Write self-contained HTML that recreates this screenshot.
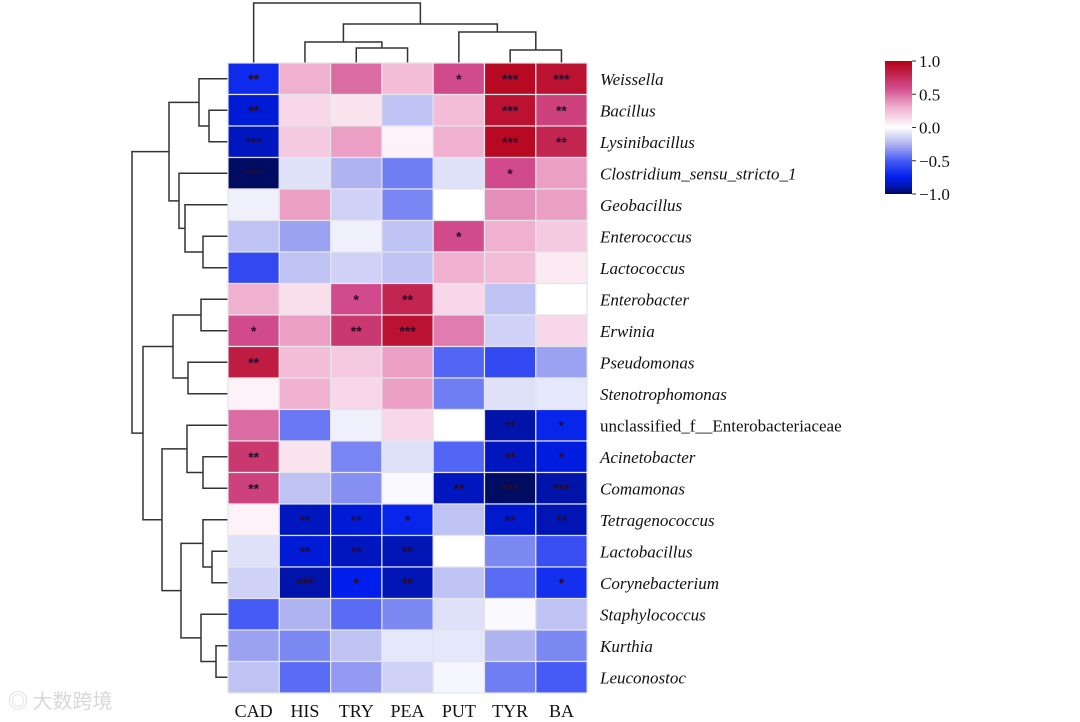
<!DOCTYPE html>
<html><head><meta charset="utf-8">
<style>
html,body{margin:0;padding:0;background:#fff;}
svg{display:block;font-family:"Liberation Serif","Noto Serif CJK SC",serif;}
</style></head>
<body>
<svg id="chart" width="1080" height="722" viewBox="0 0 1080 722">
<defs>
<linearGradient id="cbar" x1="0" y1="1" x2="0" y2="0">
<stop offset="0" stop-color="#000a50"/>
<stop offset="0.05" stop-color="#0014aa"/>
<stop offset="0.125" stop-color="#001eeb"/>
<stop offset="0.25" stop-color="#465af5"/>
<stop offset="0.375" stop-color="#afb4f0"/>
<stop offset="0.5" stop-color="#ffffff"/>
<stop offset="0.65" stop-color="#f0b0d0"/>
<stop offset="0.8" stop-color="#d04a8c"/>
<stop offset="1" stop-color="#b40014"/>
</linearGradient>
</defs>
<g id="dendro"></g>
<g id="cells"></g>
<g id="rowlabels"></g>
<g id="collabels"></g>
<g>
<rect x="885" y="61" width="27" height="133" fill="url(#cbar)"/>
<g id="cbticks"></g>
</g>
<text x="8" y="708" font-size="20" fill="#d8d8d8" font-family="'Noto Sans CJK SC',sans-serif">◎ 大数跨境</text>
</svg>
<script>
const cols = ["CAD","HIS","TRY","PEA","PUT","TYR","BA"];
const rows = ["Weissella","Bacillus","Lysinibacillus","Clostridium_sensu_stricto_1","Geobacillus","Enterococcus","Lactococcus","Enterobacter","Erwinia","Pseudomonas","Stenotrophomonas","unclassified_f__Enterobacteriaceae","Acinetobacter","Comamonas","Tetragenococcus","Lactobacillus","Corynebacterium","Staphylococcus","Kurthia","Leuconostoc"];
const values = [
[-0.7,0.3,0.5,0.25,0.6,0.95,0.9],
[-0.8,0.15,0.1,-0.2,0.25,0.9,0.65],
[-0.85,0.2,0.35,0.05,0.3,0.95,0.8],
[-0.98,-0.1,-0.25,-0.4,-0.1,0.6,0.35],
[-0.05,0.35,-0.15,-0.38,0.0,0.4,0.35],
[-0.2,-0.3,-0.05,-0.2,0.6,0.3,0.2],
[-0.57,-0.2,-0.15,-0.2,0.3,0.25,0.08],
[0.3,0.12,0.6,0.8,0.15,-0.2,0.0],
[0.6,0.35,0.7,0.9,0.45,-0.15,0.15],
[0.85,0.25,0.2,0.35,-0.47,-0.57,-0.3],
[0.05,0.3,0.15,0.35,-0.4,-0.1,-0.08],
[0.5,-0.42,-0.05,0.15,0.0,-0.9,-0.72],
[0.7,0.1,-0.38,-0.1,-0.47,-0.85,-0.78],
[0.65,-0.2,-0.35,-0.02,-0.85,-0.98,-0.9],
[0.05,-0.85,-0.8,-0.72,-0.2,-0.82,-0.88],
[-0.1,-0.8,-0.85,-0.88,0.0,-0.37,-0.55],
[-0.15,-0.9,-0.75,-0.88,-0.2,-0.45,-0.68],
[-0.5,-0.25,-0.45,-0.37,-0.1,-0.02,-0.2],
[-0.3,-0.37,-0.2,-0.08,-0.08,-0.25,-0.37],
[-0.2,-0.45,-0.32,-0.15,-0.03,-0.4,-0.5]
];
const stars = [
["**","","","","*","***","***"],
["**","","","","","***","**"],
["***","","","","","***","**"],
["***","","","","","*",""],
["","","","","","",""],
["","","","","*","",""],
["","","","","","",""],
["","","*","**","","",""],
["*","","**","***","","",""],
["**","","","","","",""],
["","","","","","",""],
["","","","","","**","*"],
["**","","","","","**","*"],
["**","","","","**","***","***"],
["","**","**","*","","**","**"],
["","**","**","**","","",""],
["","***","*","**","","","*"],
["","","","","","",""],
["","","","","","",""],
["","","","","","",""]
];
const cbTicks = [1.0,0.5,0.0,-0.5,-1.0];
const colMerges = [[2,3,48],[5,6,50],[1,"m0",42],[4,"m1",32],["m2","m3",24],[0,"m4",3]];
const rowMerges = [[1,2,209],[0,"m0",199],[5,6,203],[4,"m2",185],[3,"m3",179],["m1","m4",169],
 [7,8,201],[9,10,188],["m6","m7",173],[12,13,203],[11,"m9",187],[15,16,212],[14,"m11",203],
 [18,19,216],[17,"m13",201],["m12","m14",181],["m10","m15",162],["m8","m16",143],["m5","m17",132]];

const X0=228, Y0=63, CW=51.3, CH=31.5;
const NS="http://www.w3.org/2000/svg";
function xs(i){return X0+CW*(i+0.5);}
function ys(i){return Y0+CH*(i+0.5);}
const stops=[[-1,[0,10,80]],[-0.9,[0,20,170]],[-0.75,[0,30,235]],[-0.5,[70,90,245]],[-0.25,[175,180,240]],[0,[255,255,255]],[0.3,[240,176,208]],[0.6,[208,74,140]],[1,[180,0,20]]];
function color(v){
  v=Math.max(-1,Math.min(1,v));
  for(let k=0;k<stops.length-1;k++){
    const a=stops[k],b=stops[k+1];
    if(v<=b[0]){const t=(v-a[0])/(b[0]-a[0]);
      const c=a[1].map((x,j)=>Math.round(x+(b[1][j]-x)*t));
      return `rgb(${c[0]},${c[1]},${c[2]})`;}
  }
  return "rgb(180,0,20)";
}
function mk(tag,attrs,parent){const e=document.createElementNS(NS,tag);for(const k in attrs)e.setAttribute(k,attrs[k]);parent.appendChild(e);return e;}

const cg=document.getElementById('cells');
rows.forEach((r,i)=>cols.forEach((c,j)=>{
  const rc=mk('rect',{x:X0+CW*j,y:Y0+CH*i,width:CW,height:CH,fill:color(values[i][j]),stroke:'#e4e4ea','stroke-width':1.2},cg);
  
  
  if(stars[i][j]){
    const t=mk('text',{x:xs(j),y:ys(i)+5,'text-anchor':'middle','font-size':14,fill:'#2a0a2a','font-family':'"Liberation Sans",sans-serif','font-weight':'bold'},cg);
    t.textContent=stars[i][j];
    
    
  }
}));
const rl=document.getElementById('rowlabels');
rows.forEach((r,i)=>{
  const t=mk('text',{x:600,y:ys(i)+6,'font-size':17,fill:'#111','font-style':r.startsWith('unclassified')?'normal':'italic'},rl);
  t.textContent=r;
  
  
});
const cl=document.getElementById('collabels');
cols.forEach((c,j)=>{
  const t=mk('text',{x:xs(j),y:717,'text-anchor':'middle','font-size':18,fill:'#111'},cl);
  t.textContent=c;
  
  
});
const cb=document.getElementById('cbticks');
cbTicks.forEach(v=>{
  const y=61+(1-v)/2*133;
  const l=mk('line',{x1:912,x2:916,y1:y,y2:y,stroke:'#333','stroke-width':1},cb);
  
  
  const t=mk('text',{x:919,y:y+6,'font-size':17,fill:'#111'},cb);
  t.textContent=(v<0?'\u2212':'')+Math.abs(v).toFixed(1);
  
  
});
const dg=document.getElementById('dendro');
function line(pts,name){
  const p=mk('polyline',{points:pts.map(q=>q.join(',')).join(' '),fill:'none',stroke:'#333','stroke-width':1.5},dg);
  
  
}
(function(){
  const pos=[];const base=Y0;
  function get(n){return typeof n==='number'?[xs(n),base]:pos[+n.slice(1)];}
  colMerges.forEach((m,k)=>{
    const a=get(m[0]),b=get(m[1]),h=m[2];
    line([[a[0],a[1]],[a[0],h],[b[0],h],[b[0],b[1]]],'column-dendrogram-branch');
    pos[k]=[(a[0]+b[0])/2,h];
  });
})();
(function(){
  const pos=[];const base=X0;
  function get(n){return typeof n==='number'?[base,ys(n)]:pos[+n.slice(1)];}
  rowMerges.forEach((m,k)=>{
    const a=get(m[0]),b=get(m[1]),h=m[2];
    line([[a[0],a[1]],[h,a[1]],[h,b[1]],[b[0],b[1]]],'row-dendrogram-branch');
    pos[k]=[h,(a[1]+b[1])/2];
  });
})();
</script>
</body></html>
